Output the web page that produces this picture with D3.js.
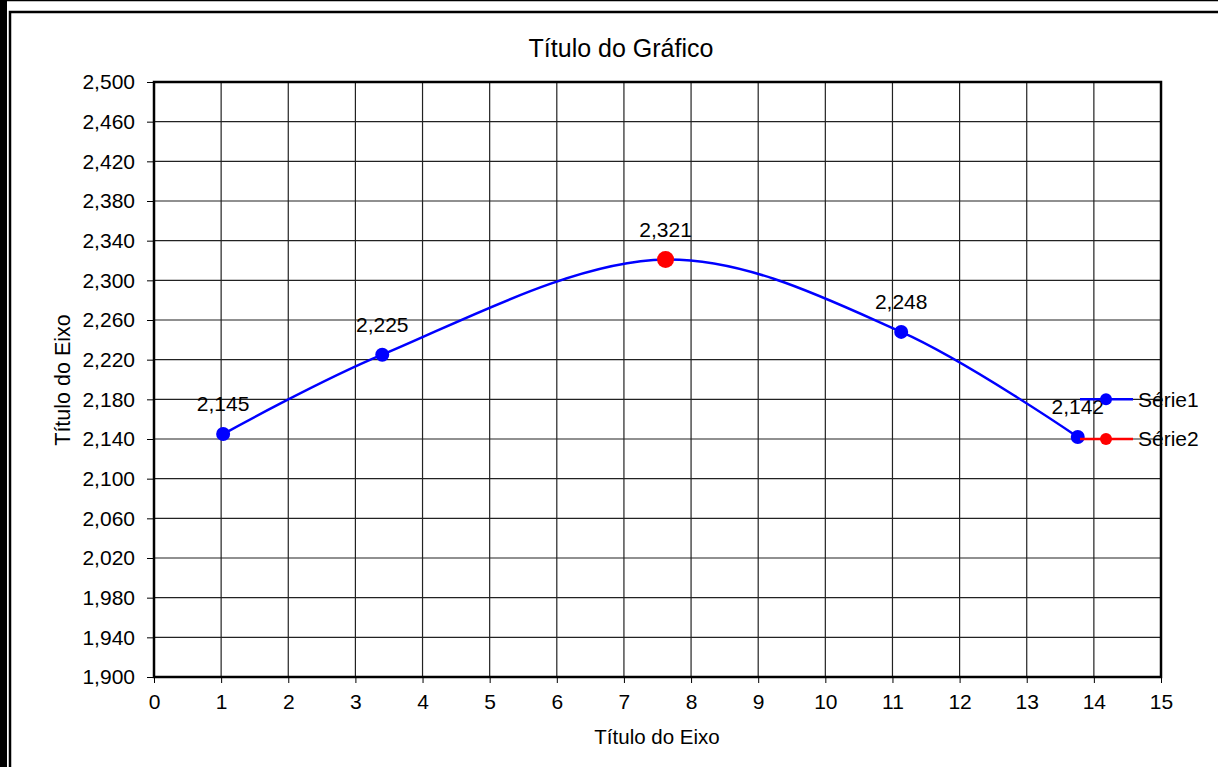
<!DOCTYPE html>
<html>
<head>
<meta charset="utf-8">
<script src="https://cdn.jsdelivr.net/npm/d3@7/dist/d3.min.js"></script>
<style>
  html, body { margin: 0; padding: 0; background: #fff; }
  svg { display: block; }
  text { font-family: "Liberation Sans", Arial, sans-serif; fill: #000; }
</style>
</head>
<body>
<svg id="chart" width="1218" height="767"></svg>
<script>
// ---- data ----
const series1X = [1.03, 3.40, 7.62, 11.13, 13.76];
const series1Y = [2.145, 2.225, 2.321, 2.248, 2.142];
const series2X = [7.62];
const series2Y = [2.321];
const labelTexts = ["2,145", "2,225", "2,321", "2,248", "2,142"];
const xTicks = [0,1,2,3,4,5,6,7,8,9,10,11,12,13,14,15];
const yTicks = [1.90,1.94,1.98,2.02,2.06,2.10,2.14,2.18,2.22,2.26,2.30,2.34,2.38,2.42,2.46,2.50];
const seriesNames = ["Série1", "Série2"];
const chartTitle = "Título do Gráfico";
const xAxisTitle = "Título do Eixo";
const yAxisTitle = "Título do Eixo";

const svg = d3.select("#chart");
const W = 1218, H = 767;
const plot = { left: 154, right: 1161, top: 82, bottom: 677 };
const FS = 21;

// frame
svg.append("rect").attr("x", 0).attr("y", 0).attr("width", 7).attr("height", H).attr("fill", "#000");
svg.append("line").attr("x1", 6).attr("x2", W).attr("y1", 0.5).attr("y2", 0.5).attr("stroke", "#000").attr("stroke-width", 1.5);
svg.append("path").attr("d", `M${10},${H} V${12} H${W}`).attr("fill", "none").attr("stroke", "#000").attr("stroke-width", 2.5);

const x = d3.scaleLinear().domain([0, 15]).range([plot.left, plot.right]);
const y = d3.scaleLinear().domain([1.9, 2.5]).range([plot.bottom, plot.top]);

const fmt = v => d3.format(".3f")(v).replace(".", ",");

// grid
const g = svg.append("g");
g.selectAll("line.hg").data(yTicks).join("line")
  .attr("x1", plot.left).attr("x2", plot.right)
  .attr("y1", d => y(d)).attr("y2", d => y(d))
  .attr("stroke", "#222").attr("stroke-width", 1.2);
g.selectAll("line.vg").data(xTicks).join("line")
  .attr("y1", plot.top).attr("y2", plot.bottom)
  .attr("x1", d => x(d)).attr("x2", d => x(d))
  .attr("stroke", "#222").attr("stroke-width", 1.2);

// axes
const yAxis = d3.axisLeft(y).tickValues(yTicks).tickFormat(fmt).tickSize(7).tickPadding(12);
const xAxis = d3.axisBottom(x).tickValues(xTicks).tickFormat(d3.format("d")).tickSize(6).tickPadding(11);
const ya = svg.append("g").attr("transform", `translate(${plot.left},0)`).call(yAxis);
const xa = svg.append("g").attr("transform", `translate(0,${plot.bottom})`).call(xAxis);
[ya, xa].forEach(a => {
  a.select(".domain").remove();
  a.selectAll("text").attr("font-size", FS).attr("font-family", "Liberation Sans, Arial, sans-serif").attr("fill", "#000");
  a.selectAll("line").attr("stroke", "#000");
});

// plot border
svg.append("rect").attr("x", plot.left).attr("y", plot.top)
  .attr("width", plot.right - plot.left).attr("height", plot.bottom - plot.top)
  .attr("fill", "none").attr("stroke", "#000").attr("stroke-width", 2.5);

// series 1 line
const pts1 = series1X.map((v, i) => [v, series1Y[i]]);
const line = d3.line().x(d => x(d[0])).y(d => y(d[1])).curve(d3.curveCatmullRom.alpha(0.5));
svg.append("path").datum(pts1).attr("d", line)
  .attr("fill", "none").attr("stroke", "#0000ff").attr("stroke-width", 2.5);
svg.selectAll("circle.s1").data(pts1).join("circle")
  .attr("cx", d => x(d[0])).attr("cy", d => y(d[1])).attr("r", 7).attr("fill", "#0000ff");

// series 2
const pts2 = series2X.map((v, i) => [v, series2Y[i]]);
svg.selectAll("circle.s2").data(pts2).join("circle")
  .attr("cx", d => x(d[0])).attr("cy", d => y(d[1])).attr("r", 8.5).attr("fill", "#ff0000");

// data labels
svg.selectAll("text.lbl").data(pts1).join("text")
  .attr("x", d => x(d[0])).attr("y", d => y(d[1]) - 23)
  .attr("text-anchor", "middle").attr("font-size", FS)
  .text((d, i) => labelTexts[i]);

// legend
const legColors = ["#0000ff", "#ff0000"];
const legY = [y(2.18), y(2.14)];
seriesNames.forEach((name, i) => {
  svg.append("line").attr("x1", 1080).attr("x2", 1133).attr("y1", legY[i]).attr("y2", legY[i])
    .attr("stroke", legColors[i]).attr("stroke-width", 2.5);
  svg.append("circle").attr("cx", 1106).attr("cy", legY[i]).attr("r", 6).attr("fill", legColors[i]);
  svg.append("text").attr("x", 1138).attr("y", legY[i]).attr("dy", "0.35em")
    .attr("font-size", FS).text(name);
});

// titles
svg.append("text").attr("x", 621).attr("y", 57).attr("text-anchor", "middle").attr("font-size", 25).text(chartTitle);
svg.append("text").attr("x", 657).attr("y", 744).attr("text-anchor", "middle").attr("font-size", 20.5).text(xAxisTitle);
svg.append("text").attr("transform", `translate(70,380) rotate(-90)`).attr("text-anchor", "middle").attr("font-size", 21.5).text(yAxisTitle);
</script>
</body>
</html>
